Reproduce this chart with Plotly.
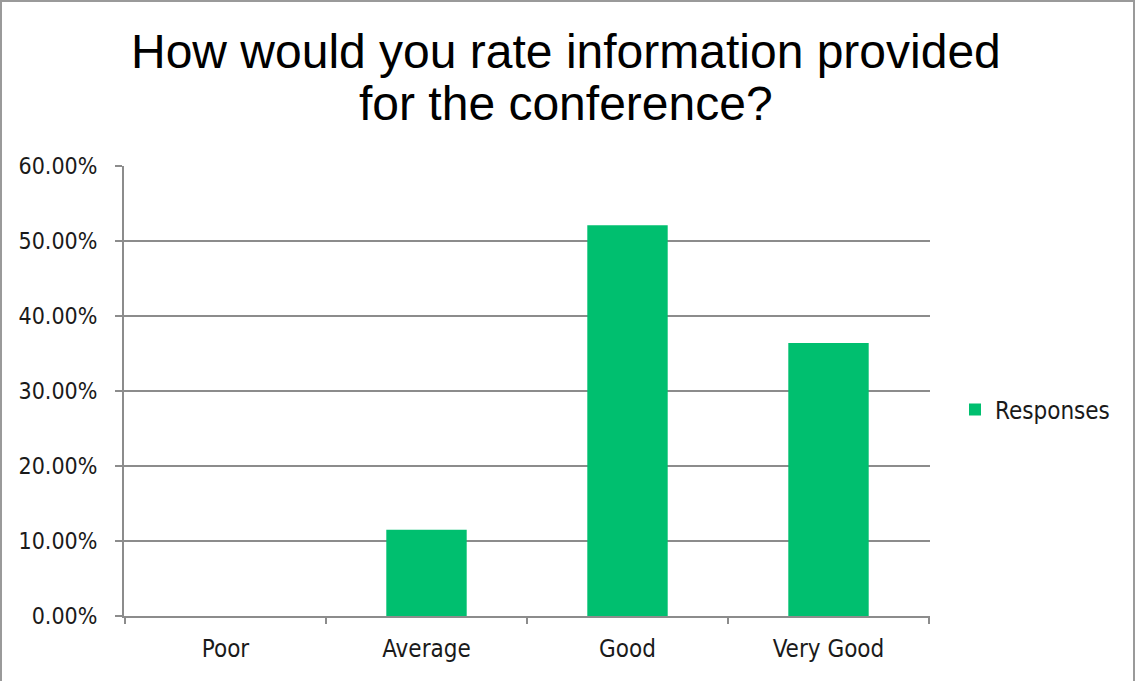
import plotly.graph_objects as go

categories = ["Poor", "Average", "Good", "Very Good"]
responses = [0.0, 0.115, 0.521, 0.364]
y_ticks = [0, 0.1, 0.2, 0.3, 0.4, 0.5, 0.6]
y_tick_labels = ["0.00%", "10.00%", "20.00%", "30.00%", "40.00%", "50.00%", "60.00%"]
title_lines = ["How would you rate information provided", "for the conference?"]

W, H = 1136, 681
ml, mr, mt, mb = 124, 206, 166, 65
pw, ph = W - ml - mr, H - mt - mb


def px_x(X):
    return (X - ml) / pw


def px_y(Y):
    return (H - mb - Y) / ph


label_family = "DejaVu Sans Condensed, Liberation Sans, Arial"
tick_font = dict(family=label_family, size=23, color="#1a1a1a")

fig = go.Figure()
fig.add_trace(go.Bar(x=categories, y=responses, name="Responses",
                     marker=dict(color="#00BF6F", line=dict(width=0))))

fig.update_layout(
    width=W, height=H,
    margin=dict(l=ml, r=mr, t=mt, b=mb, autoexpand=False),
    paper_bgcolor="white", plot_bgcolor="white",
    bargap=0.6,
    showlegend=True,
    xaxis=dict(showline=True, linecolor="#8c8c8c", linewidth=2,
               showgrid=False, ticks="", tickfont=dict(family=label_family, size=24, color="#1a1a1a"),
               ticklabelstandoff=10, fixedrange=True),
    yaxis=dict(range=[0, 0.6], tickvals=y_ticks, ticktext=y_tick_labels,
               showline=True, linecolor="#8c8c8c", linewidth=2,
               showgrid=True, gridcolor="#8c8c8c", gridwidth=2,
               ticks="outside", ticklen=7, tickcolor="#8c8c8c", tickwidth=2,
               tickfont=tick_font, ticklabelstandoff=13,
               zeroline=False, fixedrange=True),
    legend=dict(x=px_x(955), xanchor="left", y=px_y(410), yanchor="middle",
                font=dict(family=label_family, size=24, color="#1a1a1a"),
                bgcolor="rgba(0,0,0,0)", itemwidth=30),
)

# two-line chart title
for txt, yc in zip(title_lines, [51, 103]):
    fig.add_annotation(text=txt, xref="paper", yref="paper",
                       x=px_x(566), y=px_y(yc), xanchor="center", yanchor="middle",
                       showarrow=False,
                       font=dict(family="Liberation Sans, Arial", size=48, color="black"))

# category boundary ticks on x axis
for i in range(len(categories) + 1):
    fig.add_shape(type="line", xref="x", yref="paper",
                  x0=i - 0.5, x1=i - 0.5, y0=0, y1=-8 / ph,
                  line=dict(color="#8c8c8c", width=2))

# outer chart border
fig.add_shape(type="rect", xref="paper", yref="paper",
              x0=px_x(1), x1=px_x(1134), y0=px_y(684), y1=px_y(1),
              line=dict(color="#9a9a9a", width=2), fillcolor="rgba(0,0,0,0)", layer="below")

fig.write_html("out.html", config={"displayModeBar": False},
               post_script="document.body.style.margin='0';")
